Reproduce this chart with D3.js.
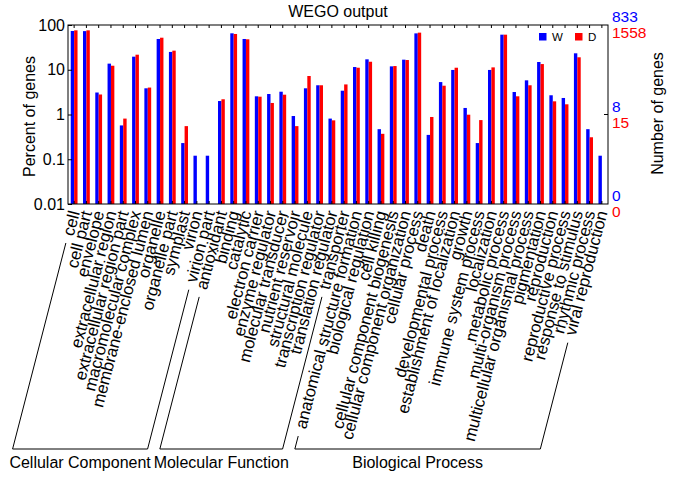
<!DOCTYPE html>
<html>
<head>
<meta charset="utf-8">
<script src="https://cdn.jsdelivr.net/npm/d3@7"></script>
<style>
  html, body { margin: 0; padding: 0; background: #fff; }
  svg { display: block; font-family: "Liberation Sans", Arial, Helvetica, sans-serif; }
</style>
</head>
<body>
<svg id="chart" width="673" height="477"></svg>
<script>
const categories = [
  "cell", "cell part", "envelope", "extracellular region", "extracellular region part",
  "macromolecular complex", "membrane-enclosed lumen", "organelle", "organelle part",
  "symplast", "virion", "virion part",
  "antioxidant", "binding", "catalytic", "electron carrier", "enzyme regulator",
  "molecular transducer", "nutrient reservoir", "structural molecule",
  "transcription regulator", "translation regulator", "transporter",
  "anatomical structure formation", "biological regulation", "cell killing",
  "cellular component biogenesis", "cellular component organization", "cellular process",
  "death", "developmental process", "establishment of localization", "growth",
  "immune system process", "localization", "metabolic process", "multi-organism process",
  "multicellular organismal process", "pigmentation", "reproduction", "reproductive process",
  "response to stimulus", "rhythmic process", "viral reproduction"
];
const wPercent = [73.5, 73, 3.1, 13.7, 0.57, 19.6, 3.85, 48.7, 25, 0.23, 0.12, 0.12,
  2.0, 65.2, 48.7, 2.55, 2.87, 3.23, 0.925, 3.85, 4.5, 0.81, 3.4,
  11.5, 17.1, 0.47, 11.9, 16.8, 65, 0.35, 5.3, 9.9, 1.40, 0.23, 9.9, 60.8, 3.18, 5.8,
  14.9, 2.69, 2.34, 23.3, 0.47, 0.12];
const dPercent = [76, 76, 2.8, 12.3, 0.81, 21.7, 4.0, 52, 26.7, 0.55, 0, 0,
  2.19, 63, 47.9, 2.5, 1.81, 2.77, 0.55, 7.25, 4.5, 0.74, 4.7,
  11.1, 15.1, 0.37, 12.1, 16.5, 67.5, 0.88, 4.4, 11.1, 0.99, 0.75, 11.3, 60.8, 2.55, 4.5,
  13.4, 1.97, 1.69, 19, 0.31, 0];
const ontologyGroups = ["Cellular Component", "Molecular Function", "Biological Process"];
const groupStart = [0, 12, 23];
const groupEnd = [11, 22, 43];
const leftTicks = [100, 10, 1, 0.1, 0.01];
const leftTickLabels = ["100", "10", "1", "0.1", "0.01"];
const rightTickLevels = [100, 1, 0.01];
const rightLabelsW = ["833", "8", "0"];
const rightLabelsD = ["1558", "15", "0"];
const seriesNames = ["W", "D"];
const seriesColors = ["#0000ff", "#ff0000"];

const svg = d3.select("#chart");
const L = 68, R = 608, T = 25, B = 204;

const x = d3.scaleBand().domain(categories).range([L, R]).paddingInner(0).paddingOuter(0);
const y = d3.scaleLog().domain([0.01, 100]).range([B, T]);
const bw = 3.4;

// bars
const g = svg.append("g");
g.selectAll("rect.w").data(categories).join("rect")
  .attr("x", (c) => x(c) + x.bandwidth() / 2 - bw)
  .attr("width", bw)
  .attr("y", (c, i) => y(wPercent[i]))
  .attr("height", (c, i) => B - y(wPercent[i]))
  .attr("fill", seriesColors[0]);
g.selectAll("rect.d").data(categories.filter((c, i) => dPercent[i] > 0)).join("rect")
  .attr("x", (c) => x(c) + x.bandwidth() / 2)
  .attr("width", bw)
  .attr("y", (c) => y(dPercent[categories.indexOf(c)]))
  .attr("height", (c) => B - y(dPercent[categories.indexOf(c)]))
  .attr("fill", seriesColors[1]);

// frame
svg.append("rect").attr("x", L).attr("y", T).attr("width", R - L).attr("height", B - T)
  .attr("fill", "none").attr("stroke", "#000").attr("stroke-width", 1);

// top & bottom inward ticks
const bottomAxis = d3.axisBottom(x).tickSize(-3).tickFormat("");
svg.append("g").attr("transform", `translate(0,${B})`).call(bottomAxis)
  .call(s => s.select(".domain").remove());
const topAxis = d3.axisTop(x).tickSize(-3).tickFormat("");
svg.append("g").attr("transform", `translate(0,${T})`).call(topAxis)
  .call(s => s.select(".domain").remove());

// left axis
const leftAxis = d3.axisLeft(y).tickValues(leftTicks).tickSize(-4).tickPadding(3)
  .tickFormat((d, i) => leftTickLabels[i]);
svg.append("g").attr("transform", `translate(${L},0)`).call(leftAxis)
  .call(s => s.select(".domain").remove())
  .call(s => s.selectAll("text").attr("font-size", 16).attr("fill", "#000")
    .attr("font-family", "Liberation Sans, Arial, sans-serif"));

// right axis ticks (inward at 1%)
svg.selectAll("line.rt").data([1]).join("line")
  .attr("x1", R).attr("x2", R - 4).attr("y1", d => y(d)).attr("y2", d => y(d))
  .attr("stroke", "#000");
rightTickLevels.forEach((lv, i) => {
  svg.append("text").attr("x", R + 4).attr("y", y(lv) - 3)
    .attr("font-size", 15.5).attr("fill", seriesColors[0]).text(rightLabelsW[i]);
  svg.append("text").attr("x", R + 4).attr("y", y(lv) + 13)
    .attr("font-size", 15.5).attr("fill", seriesColors[1]).text(rightLabelsD[i]);
});

// title and axis titles
svg.append("text").attr("x", (L + R) / 2).attr("y", 17).attr("text-anchor", "middle")
  .attr("font-size", 16).text("WEGO output");
svg.append("text").attr("transform", `translate(35,${(T + B) / 2 + 2}) rotate(-90)`)
  .attr("text-anchor", "middle").attr("font-size", 16).text("Percent of genes");
svg.append("text").attr("transform", `translate(663,${(T + B) / 2 - 1}) rotate(-90)`)
  .attr("text-anchor", "middle").attr("font-size", 16).text("Number of genes");

// legend
const lg = svg.append("g");
const legX = [539, 575];
seriesNames.forEach((n, i) => {
  lg.append("rect").attr("x", legX[i]).attr("y", 33).attr("width", 7.5).attr("height", 7.5)
    .attr("fill", seriesColors[i]);
  lg.append("text").attr("x", legX[i] + 13).attr("y", 41).attr("font-size", 11.5).text(n);
});

// category labels
const ang = -75.5;
const rad = ang * Math.PI / 180;
const ux = Math.cos(rad), uy = Math.sin(rad); // along text direction (up-right)
const labelY = 211;
const labels = svg.append("g").selectAll("text").data(categories).join("text")
  .attr("transform", c => `translate(${x(c) + x.bandwidth() / 2},${labelY}) rotate(${ang})`)
  .attr("text-anchor", "end").attr("dy", "0.35em").attr("font-size", 16.7)
  .text(c => c);
const lengths = [];
labels.each(function () { lengths.push(this.getComputedTextLength()); });

// brackets
const bottomY = 449, gap = 8;
function footPoint(i) {
  const cx = x(categories[i]) + x.bandwidth() / 2;
  const sx = cx - lengths[i] * ux + gap * (-ux);
  const sy = labelY - lengths[i] * uy + gap * (-uy);
  const t = (bottomY - sy) / (-uy);
  return { sx, sy, bx: sx - ux * t, by: bottomY };
}
ontologyGroups.forEach((name, k) => {
  const a = footPoint(groupStart[k]);
  const b = footPoint(groupEnd[k]);
  svg.append("path")
    .attr("d", `M${a.sx},${a.sy}L${a.bx},${a.by}L${b.bx},${b.by}L${b.sx},${b.sy}`)
    .attr("fill", "none").attr("stroke", "#000").attr("stroke-width", 1);
  svg.append("text").attr("x", (a.bx + b.bx) / 2).attr("y", 468)
    .attr("text-anchor", "middle").attr("font-size", 16).text(name);
});
</script>
</body>
</html>
